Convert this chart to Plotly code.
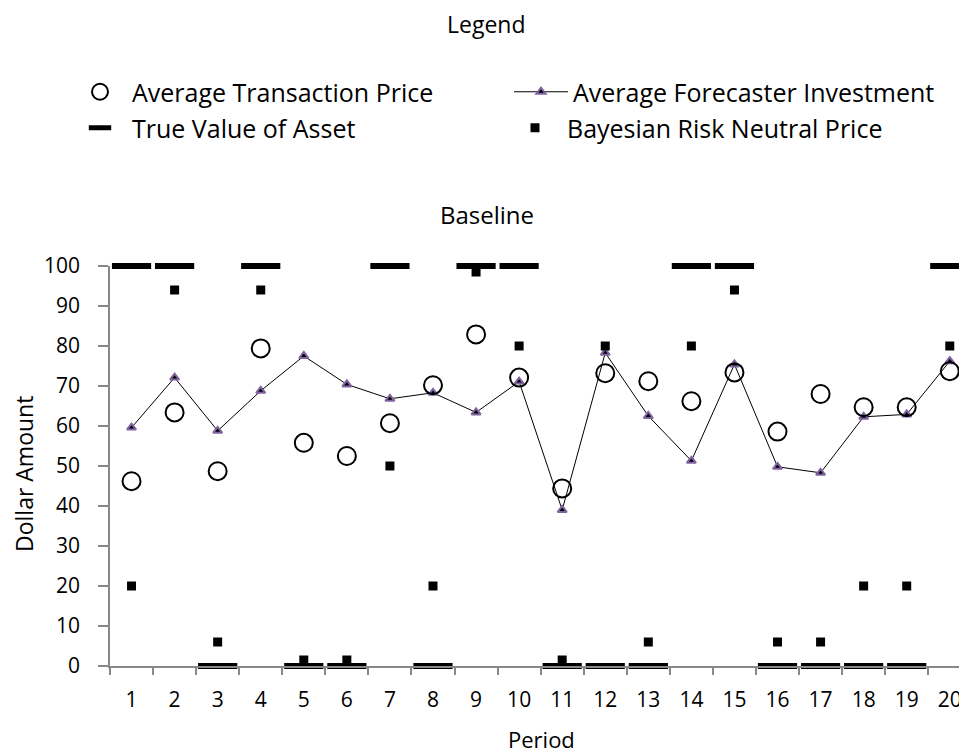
import plotly.graph_objects as go

periods = [str(i) for i in range(1, 21)]
avg_transaction_price = [46.2, 63.4, 48.7, 79.4, 55.8, 52.5, 60.7, 70.2, 82.9, 72.1,
                         44.4, 73.2, 71.2, 66.2, 73.4, 58.6, 68.0, 64.7, 64.7, 73.7]
avg_forecaster_investment = [59.6, 72.1, 58.8, 68.8, 77.5, 70.4, 66.8, 68.3, 63.4, 71.1,
                             39.0, 78.3, 62.5, 51.3, 75.4, 49.8, 48.3, 62.3, 62.9, 76.2]
true_value = [100, 100, 0, 100, 0, 0, 100, 0, 100, 100,
              0, 0, 0, 100, 100, 0, 0, 0, 0, 100]
bayesian_price = [20, 94, 6, 94, 1.5, 1.5, 50, 20, 98.5, 80,
                  1.5, 80, 6, 80, 94, 6, 6, 20, 20, 80]
y_ticks = [0, 10, 20, 30, 40, 50, 60, 70, 80, 90, 100]

FONT = "Open Sans"
OFF = 8                      # page body margin
W, H = 967 - OFF, 754 - OFF  # visible figure area
L = 110 - OFF
T = 266 - OFF
BOT = 666 - OFF
B = H - BOT
PW = W - L
PH = BOT - T


def fx(page_x):
    return (page_x - OFF - L) / PW


def fy(page_y):
    return (BOT - (page_y - OFF)) / PH


fig = go.Figure()
fig.add_trace(go.Scatter(
    x=periods, y=avg_forecaster_investment, mode="lines+markers",
    name="Average Forecaster Investment",
    line=dict(color="black", width=1),
    marker=dict(symbol="triangle-up", size=8, color="black",
                line=dict(color="#8064A2", width=2)),
    cliponaxis=False, legend="legend2"))
fig.add_trace(go.Scatter(
    x=periods, y=avg_transaction_price, mode="markers",
    name="Average Transaction Price",
    marker=dict(symbol="circle-open", size=18, color="black",
                line=dict(color="black", width=2)),
    cliponaxis=False, legend="legend"))
fig.add_trace(go.Scatter(
    x=periods, y=true_value, mode="markers",
    name="True Value of Asset",
    marker=dict(symbol="line-ew", size=28, color="black",
                line=dict(color="black", width=6)),
    cliponaxis=False, legend="legend3"))
fig.add_trace(go.Scatter(
    x=periods, y=bayesian_price, mode="markers",
    name="Bayesian Risk Neutral Price",
    marker=dict(symbol="square", size=9, color="black",
                line=dict(width=0)),
    cliponaxis=False, legend="legend4"))

leg_font = dict(family=FONT, size=25, color="black")
common_leg = dict(xref="container", yref="container", xanchor="left", yanchor="middle",
                  bgcolor="rgba(0,0,0,0)", borderwidth=0, font=leg_font,
                  itemsizing="trace", itemwidth=54, orientation="h")


def lx(page_x):
    return (page_x - OFF) / W


def ly(page_y):
    return 1 - (page_y - OFF) / H


fig.update_layout(
    width=W, height=H,
    margin=dict(l=L, r=0, t=T, b=B, pad=0),
    plot_bgcolor="white", paper_bgcolor="white",
    font=dict(family=FONT, size=21, color="black"),
    showlegend=True,
    legend=dict(x=lx(68), y=ly(92), **common_leg),
    legend2=dict(x=lx(509), y=ly(92), **common_leg),
    legend3=dict(x=lx(68), y=ly(128), **common_leg),
    legend4=dict(x=lx(503), y=ly(128), **common_leg),
    xaxis=dict(type="category", range=[-0.5, 19.4], tickson="boundaries",
               showline=True, linecolor="#888888", linewidth=1.5,
               ticks="outside", ticklen=7, tickcolor="#888888", tickwidth=1.5,
               showgrid=False, zeroline=False, automargin=False,
               tickfont=dict(family=FONT, size=21, color="black"),
               ticklabelstandoff=14),
    yaxis=dict(range=[0, 100], tickvals=y_ticks,
               showline=True, linecolor="#888888", linewidth=1.5,
               ticks="outside", ticklen=10, tickcolor="#888888", tickwidth=1.5,
               showgrid=False, zeroline=False, automargin=False,
               tickfont=dict(family=FONT, size=21, color="black"),
               ticklabelstandoff=14),
    annotations=[
        dict(text="Legend", x=fx(486), y=fy(24), xref="paper", yref="paper",
             showarrow=False, xanchor="center", yanchor="middle",
             font=dict(family=FONT, size=23, color="black")),
        dict(text="Baseline", x=fx(487), y=fy(214), xref="paper", yref="paper",
             showarrow=False, xanchor="center", yanchor="middle",
             font=dict(family=FONT, size=24, color="black")),
        dict(text="Period", x=fx(541), y=fy(739), xref="paper", yref="paper",
             showarrow=False, xanchor="center", yanchor="middle",
             font=dict(family=FONT, size=22, color="black")),
        dict(text="Dollar Amount", x=fx(24), y=fy(474), xref="paper", yref="paper",
             showarrow=False, xanchor="center", yanchor="middle", textangle=-90,
             font=dict(family=FONT, size=23, color="black")),
    ],
)

fig.write_html("out.html")
